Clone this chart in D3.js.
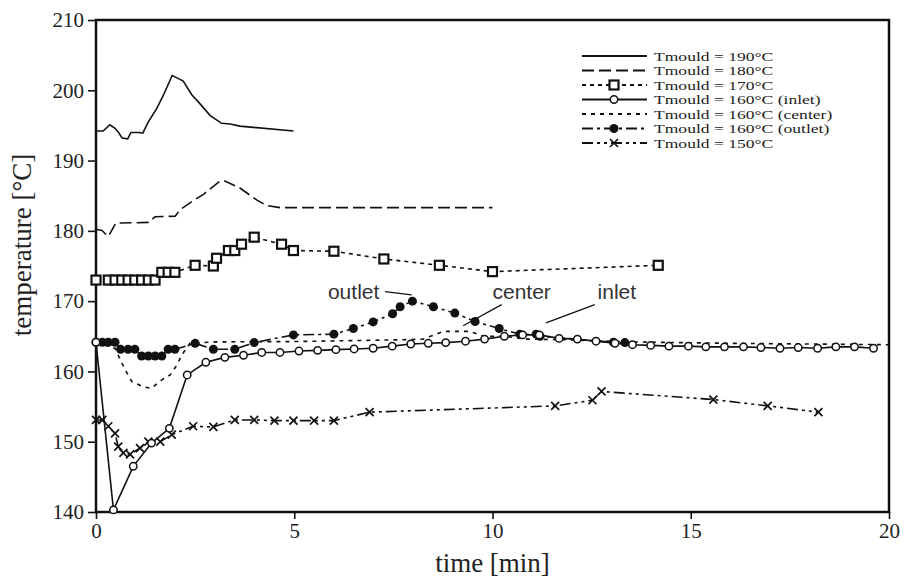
<!DOCTYPE html>
<html>
<head>
<meta charset="utf-8">
<script src="https://cdn.jsdelivr.net/npm/d3@7"></script>
<style>
    body { margin: 0; background: #fff; }
    .axisText { font-family: "Liberation Serif", "Times New Roman", serif; font-size: 21px; fill: #222; }
    .axisTitle { font-family: "Liberation Serif", "Times New Roman", serif; font-size: 27px; fill: #222; }
    .legendText { font-family: "Liberation Serif", "Times New Roman", serif; font-size: 13px; fill: #222; }
    .noteText { font-family: "Liberation Sans", Arial, sans-serif; font-size: 21px; fill: #333; }
</style>
</head>
<body>
<div id="chart"></div>
<script>
// ---- data (time in min, temperature in °C) ----
var t190 = [0, 0.18, 0.35, 0.48, 0.57, 0.66, 0.8, 0.88, 1.1, 1.18, 1.32, 1.53, 1.7, 1.92, 2.03, 2.2, 2.41, 2.62, 2.88, 3.17, 3.38, 3.63, 4.98];
var T190 = [194.2, 194.2, 195.1, 194.6, 194, 193.2, 193.1, 194, 194, 193.9, 195.5, 197.4, 199.3, 202.1, 201.8, 201.3, 199.4, 198.1, 196.4, 195.3, 195.2, 194.9, 194.2];

var t180 = [0, 0.14, 0.31, 0.5, 1.32, 1.49, 2.0, 2.12, 2.45, 2.71, 3.13, 3.25, 3.63, 4.05, 4.3, 4.64, 10.0];
var T180 = [180.2, 180.1, 179.2, 181.1, 181.2, 182.0, 182.1, 183.0, 184.3, 185.2, 187.1, 187.1, 186.1, 184.4, 183.6, 183.3, 183.3];

var t170 = [0, 0.31, 0.48, 0.65, 0.81, 0.98, 1.15, 1.32, 1.49, 1.66, 1.82, 1.99, 2.5, 2.96, 3.04, 3.34, 3.5, 3.67, 3.99, 4.68, 4.98, 6.0, 7.26, 8.66, 10.0, 14.18];
var T170 = [173, 173, 173, 173, 173, 173, 173, 173, 173, 174.1, 174.1, 174.1, 175.1, 175, 176.1, 177.2, 177.2, 178.1, 179.1, 178.1, 177.2, 177.1, 176, 175.1, 174.2, 175.1];

var tInlet = [0, 0.44, 0.94, 1.4, 1.85, 2.3, 2.77, 3.25, 3.72, 4.18, 4.64, 5.12, 5.59, 6.05, 6.51, 6.99, 7.47, 7.94, 8.38, 8.82, 9.32, 9.8, 10.3, 10.76, 11.18, 11.68, 12.14, 12.61, 13.09, 13.53, 13.99, 14.45, 14.94, 15.38, 15.85, 16.33, 16.77, 17.25, 17.71, 18.2, 18.66, 19.13, 19.61];
var TInlet = [164.15, 140.3, 146.5, 149.8, 151.9, 159.5, 161.3, 162.0, 162.3, 162.7, 162.7, 162.9, 163.0, 163.1, 163.2, 163.3, 163.6, 163.9, 164.0, 164.1, 164.3, 164.6, 165.0, 165.2, 165.2, 164.7, 164.6, 164.3, 164.0, 163.8, 163.7, 163.6, 163.6, 163.5, 163.5, 163.5, 163.4, 163.3, 163.4, 163.3, 163.5, 163.5, 163.3];

var tCenter = [0, 0.48, 0.65, 0.76, 0.9, 1.19, 1.4, 1.66, 1.87, 2.04, 2.16, 2.37, 3.0, 5.0, 7.67, 8.25, 8.76, 9.43, 9.77, 10.3, 10.86, 11.87, 13.5, 16, 18, 20];
var TCenter = [164.1, 163.3, 161.2, 160.0, 158.6, 157.8, 157.6, 158.8, 159.5, 160.9, 162.3, 164.0, 164.2, 164.25, 164.5, 164.6, 165.7, 165.7, 165.0, 165.0, 164.6, 164.5, 164.2, 164.0, 163.9, 163.8];

var tOutlet = [0, 0.16, 0.31, 0.48, 0.62, 0.81, 0.98, 1.15, 1.32, 1.49, 1.66, 1.82, 1.99, 2.5, 2.96, 3.5, 3.99, 4.98, 6.0, 6.49, 6.99, 7.48, 7.67, 7.98, 8.51, 9.05, 9.56, 10.17, 10.69, 11.1, 11.2, 13.05, 13.34];
var TOutlet = [164.15, 164.15, 164.15, 164.15, 163.15, 163.15, 163.15, 162.2, 162.2, 162.2, 162.2, 163.15, 163.15, 164.0, 163.15, 163.15, 164.1, 165.2, 165.3, 166.1, 167.05, 168.2, 169.2, 170.0, 169.2, 168.3, 167.1, 166.1, 165.3, 165.3, 165.0, 164.15, 164.1];

var t150 = [0, 0.16, 0.31, 0.48, 0.56, 0.69, 0.86, 1.11, 1.32, 1.62, 1.91, 2.45, 2.96, 3.5, 3.99, 4.5, 4.98, 5.5, 6.0, 6.9, 11.58, 12.52, 12.75, 15.57, 16.94, 18.22];
var T150 = [153.1, 153.1, 152.2, 151.2, 149.3, 148.4, 148.2, 149.1, 150.0, 150.0, 151.0, 152.2, 152.1, 153.1, 153.1, 153.0, 153.0, 153.0, 153.0, 154.2, 155.1, 155.9, 157.15, 156.0, 155.1, 154.2];

var legendLabels = ["Tmould = 190°C", "Tmould = 180°C", "Tmould = 170°C", "Tmould = 160°C (inlet)",
                    "Tmould = 160°C (center)", "Tmould = 160°C (outlet)", "Tmould = 150°C"];

var xTicks = [0, 5, 10, 15, 20];
var yTicks = [140, 150, 160, 170, 180, 190, 200, 210];

// annotation labels with leader lines (data coords)
var noteLabels = ["outlet", "center", "inlet"];
var noteTextX = [5.85, 10.0, 12.65];
var noteTextY = [170.3, 170.3, 170.3];
var noteLine = [[7.29, 171.35, 7.96, 170.9], [10.23, 169.5, 9.26, 166.5], [12.58, 169.5, 11.35, 166.9]];

/**
 * Constructor for the temperature chart
 */
function TemperatureChart(){
    var self = this;
    self.init();
};

/**
 * Sets up svg and scales
 */
TemperatureChart.prototype.init = function(){
    var self = this;
    self.margin = {top: 20, right: 16, bottom: 65, left: 96};
    self.svgWidth = 905;
    self.svgHeight = 577;
    self.width = self.svgWidth - self.margin.left - self.margin.right;
    self.height = self.svgHeight - self.margin.top - self.margin.bottom;

    self.svg = d3.select("#chart").append("svg")
        .attr("width", self.svgWidth)
        .attr("height", self.svgHeight);
    self.g = self.svg.append("g")
        .attr("transform", "translate(" + self.margin.left + "," + self.margin.top + ")");

    self.x = d3.scaleLinear().domain([0, 20]).range([0, self.width]);
    self.y = d3.scaleLinear().domain([140, 210]).range([self.height, 0]);
};

/**
 * Draws a marker of given type at (0,0) inside selection sel
 */
TemperatureChart.prototype.marker = function(sel, type){
    if (type == "square"){
        sel.append("rect").attr("x", -4.5).attr("y", -4.5).attr("width", 9).attr("height", 9)
            .attr("fill", "#fff").attr("stroke", "#111").attr("stroke-width", 2.2);
    }
    else if (type == "circle"){
        sel.append("circle").attr("r", 3.7).attr("fill", "#fff").attr("stroke", "#111").attr("stroke-width", 1.5);
    }
    else if (type == "dot"){
        sel.append("circle").attr("r", 4.5).attr("fill", "#111");
    }
    else if (type == "cross"){
        sel.append("path").attr("d", "M-4,-4L4,4M-4,4L4,-4").attr("stroke", "#111").attr("stroke-width", 1.7);
    }
};

TemperatureChart.prototype.update = function(){
    var self = this;
    var x = self.x, y = self.y, g = self.g;

    var series = [
        {t: t190, T: T190, dash: null, marker: null},
        {t: t180, T: T180, dash: "12,5", marker: null},
        {t: t170, T: T170, dash: "4,4", marker: "square"},
        {t: tInlet, T: TInlet, dash: null, marker: "circle"},
        {t: tCenter, T: TCenter, dash: "4,5", marker: null},
        {t: tOutlet, T: TOutlet, dash: "11,4,3,4", marker: "dot"},
        {t: t150, T: T150, dash: "11,4,3,4,3,4", marker: "cross"}
    ];
    var drawOrder = [0, 1, 2, 4, 5, 6, 3];

    // axes
    var xAxis = d3.axisBottom(x).tickValues(xTicks).tickSize(7).tickPadding(4).tickFormat(d3.format("d"));
    var yAxis = d3.axisLeft(y).tickValues(yTicks).tickSize(8).tickPadding(4).tickFormat(d3.format("d"));
    var gx = g.append("g").attr("transform", "translate(0," + self.height + ")").call(xAxis);
    var gy = g.append("g").call(yAxis);
    [gx, gy].forEach(function(a){
        a.select(".domain").remove();
        a.attr("font-size", null).attr("font-family", null);
        a.selectAll("line").attr("stroke", "#111").attr("stroke-width", 1.6);
        a.selectAll("text").attr("class", "axisText").attr("fill", null);
    });

    // frame
    g.append("rect").attr("x", 0).attr("y", 0).attr("width", self.width).attr("height", self.height)
        .attr("fill", "none").attr("stroke", "#111").attr("stroke-width", 2.5);

    // axis titles
    self.svg.append("text").attr("class", "axisTitle")
        .attr("x", self.margin.left + x(10)).attr("y", 572)
        .style("text-anchor", "middle").text("time [min]");
    self.svg.append("text").attr("class", "axisTitle")
        .attr("transform", "translate(31,245) rotate(-90)")
        .style("text-anchor", "middle").text("temperature [°C]");

    // curves
    var line = d3.line().x(function(d){ return x(d[0]); }).y(function(d){ return y(d[1]); });
    drawOrder.forEach(function(i){
        var s = series[i];
        var pts = s.t.map(function(v, k){ return [v, s.T[k]]; });
        g.append("path").datum(pts).attr("d", line)
            .attr("fill", "none").attr("stroke", "#111").attr("stroke-width", 1.6)
            .attr("stroke-dasharray", s.dash);
        if (s.marker){
            pts.forEach(function(p){
                var m = g.append("g").attr("transform", "translate(" + x(p[0]) + "," + y(p[1]) + ")");
                self.marker(m, s.marker);
            });
        }
    });

    // annotations
    noteLabels.forEach(function(lab, i){
        g.append("text").attr("class", "noteText").attr("x", x(noteTextX[i])).attr("y", y(noteTextY[i])).text(lab);
        var l = noteLine[i];
        g.append("line").attr("x1", x(l[0])).attr("y1", y(l[1])).attr("x2", x(l[2])).attr("y2", y(l[3]))
            .attr("stroke", "#111").attr("stroke-width", 1.3);
    });

    // legend (text stretched wider than its font, as in the figure)
    var leg = self.svg.append("g").attr("transform", "translate(582,56)");
    series.forEach(function(s, i){
        var row = leg.append("g").attr("transform", "translate(0," + (i * 14.5) + ")");
        row.append("line").attr("x1", 0).attr("x2", 65).attr("y1", 0).attr("y2", 0)
            .attr("stroke", "#111").attr("stroke-width", 1.8).attr("stroke-dasharray", s.dash);
        if (s.marker){
            var m = row.append("g").attr("transform", "translate(32,0)");
            self.marker(m, s.marker);
        }
        var txt = row.append("text").attr("class", "legendText").attr("x", 72).attr("y", 4.5).text(legendLabels[i]);
        var w = txt.node().getComputedTextLength();
        txt.attr("textLength", w * 1.35).attr("lengthAdjust", "spacingAndGlyphs");
    });
};

var chart = new TemperatureChart();
chart.update();
</script>
</body>
</html>
